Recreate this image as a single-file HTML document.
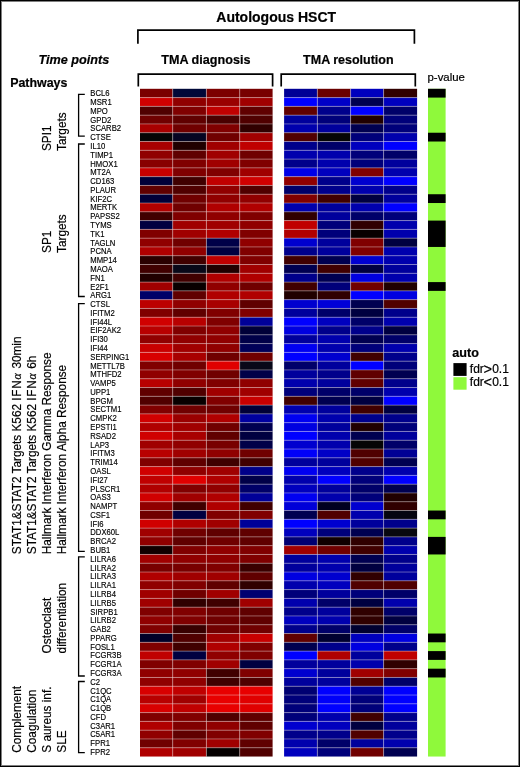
<!DOCTYPE html><html><head><meta charset="utf-8"><style>
html,body{margin:0;padding:0;background:#fff;}
body{width:520px;height:767px;overflow:hidden;position:relative;}
svg{position:absolute;left:0;top:0;display:block;will-change:transform;}
text{font-family:"Liberation Sans", sans-serif;fill:#000;stroke:#000;stroke-width:0.2px;}
.g{font-size:8.3px;stroke-width:0.15px;}
.r{font-size:12.5px;}
.b{font-weight:bold;}
</style></head><body>
<svg width="520" height="767" viewBox="0 0 520 767">
<rect x="0" y="0" width="520" height="767" fill="#fff"/>
<rect x="140.00" y="88.80" width="32.70" height="8.79" fill="#7a0000"/>
<rect x="172.70" y="88.80" width="33.70" height="8.79" fill="#000838"/>
<rect x="206.40" y="88.80" width="33.30" height="8.79" fill="#7c0000"/>
<rect x="239.70" y="88.80" width="32.90" height="8.79" fill="#780000"/>
<rect x="140.00" y="97.59" width="32.70" height="8.79" fill="#d00000"/>
<rect x="172.70" y="97.59" width="33.70" height="8.79" fill="#900000"/>
<rect x="206.40" y="97.59" width="33.30" height="8.79" fill="#9a0000"/>
<rect x="239.70" y="97.59" width="32.90" height="8.79" fill="#a00000"/>
<rect x="140.00" y="106.37" width="32.70" height="8.79" fill="#500000"/>
<rect x="172.70" y="106.37" width="33.70" height="8.79" fill="#800000"/>
<rect x="206.40" y="106.37" width="33.30" height="8.79" fill="#c00000"/>
<rect x="239.70" y="106.37" width="32.90" height="8.79" fill="#600000"/>
<rect x="140.00" y="115.16" width="32.70" height="8.79" fill="#700000"/>
<rect x="172.70" y="115.16" width="33.70" height="8.79" fill="#600000"/>
<rect x="206.40" y="115.16" width="33.30" height="8.79" fill="#4a0000"/>
<rect x="239.70" y="115.16" width="32.90" height="8.79" fill="#500000"/>
<rect x="140.00" y="123.94" width="32.70" height="8.79" fill="#a80000"/>
<rect x="172.70" y="123.94" width="33.70" height="8.79" fill="#700000"/>
<rect x="206.40" y="123.94" width="33.30" height="8.79" fill="#800000"/>
<rect x="239.70" y="123.94" width="32.90" height="8.79" fill="#300000"/>
<rect x="140.00" y="132.73" width="32.70" height="8.79" fill="#050505"/>
<rect x="172.70" y="132.73" width="33.70" height="8.79" fill="#050522"/>
<rect x="206.40" y="132.73" width="33.30" height="8.79" fill="#700000"/>
<rect x="239.70" y="132.73" width="32.90" height="8.79" fill="#a00000"/>
<rect x="140.00" y="141.52" width="32.70" height="8.79" fill="#a80000"/>
<rect x="172.70" y="141.52" width="33.70" height="8.79" fill="#200000"/>
<rect x="206.40" y="141.52" width="33.30" height="8.79" fill="#a00000"/>
<rect x="239.70" y="141.52" width="32.90" height="8.79" fill="#c00000"/>
<rect x="140.00" y="150.30" width="32.70" height="8.79" fill="#900000"/>
<rect x="172.70" y="150.30" width="33.70" height="8.79" fill="#600000"/>
<rect x="206.40" y="150.30" width="33.30" height="8.79" fill="#a00000"/>
<rect x="239.70" y="150.30" width="32.90" height="8.79" fill="#700000"/>
<rect x="140.00" y="159.09" width="32.70" height="8.79" fill="#880000"/>
<rect x="172.70" y="159.09" width="33.70" height="8.79" fill="#800000"/>
<rect x="206.40" y="159.09" width="33.30" height="8.79" fill="#a00000"/>
<rect x="239.70" y="159.09" width="32.90" height="8.79" fill="#800000"/>
<rect x="140.00" y="167.87" width="32.70" height="8.79" fill="#c80000"/>
<rect x="172.70" y="167.87" width="33.70" height="8.79" fill="#800000"/>
<rect x="206.40" y="167.87" width="33.30" height="8.79" fill="#800000"/>
<rect x="239.70" y="167.87" width="32.90" height="8.79" fill="#a00000"/>
<rect x="140.00" y="176.66" width="32.70" height="8.79" fill="#000038"/>
<rect x="172.70" y="176.66" width="33.70" height="8.79" fill="#400000"/>
<rect x="206.40" y="176.66" width="33.30" height="8.79" fill="#c00000"/>
<rect x="239.70" y="176.66" width="32.90" height="8.79" fill="#d00000"/>
<rect x="140.00" y="185.45" width="32.70" height="8.79" fill="#600000"/>
<rect x="172.70" y="185.45" width="33.70" height="8.79" fill="#500000"/>
<rect x="206.40" y="185.45" width="33.30" height="8.79" fill="#900000"/>
<rect x="239.70" y="185.45" width="32.90" height="8.79" fill="#500000"/>
<rect x="140.00" y="194.23" width="32.70" height="8.79" fill="#000038"/>
<rect x="172.70" y="194.23" width="33.70" height="8.79" fill="#700000"/>
<rect x="206.40" y="194.23" width="33.30" height="8.79" fill="#900000"/>
<rect x="239.70" y="194.23" width="32.90" height="8.79" fill="#900000"/>
<rect x="140.00" y="203.02" width="32.70" height="8.79" fill="#b00000"/>
<rect x="172.70" y="203.02" width="33.70" height="8.79" fill="#700000"/>
<rect x="206.40" y="203.02" width="33.30" height="8.79" fill="#b00000"/>
<rect x="239.70" y="203.02" width="32.90" height="8.79" fill="#b00000"/>
<rect x="140.00" y="211.80" width="32.70" height="8.79" fill="#400000"/>
<rect x="172.70" y="211.80" width="33.70" height="8.79" fill="#800000"/>
<rect x="206.40" y="211.80" width="33.30" height="8.79" fill="#900000"/>
<rect x="239.70" y="211.80" width="32.90" height="8.79" fill="#800000"/>
<rect x="140.00" y="220.59" width="32.70" height="8.79" fill="#000040"/>
<rect x="172.70" y="220.59" width="33.70" height="8.79" fill="#a00000"/>
<rect x="206.40" y="220.59" width="33.30" height="8.79" fill="#a00000"/>
<rect x="239.70" y="220.59" width="32.90" height="8.79" fill="#900000"/>
<rect x="140.00" y="229.38" width="32.70" height="8.79" fill="#800000"/>
<rect x="172.70" y="229.38" width="33.70" height="8.79" fill="#a00000"/>
<rect x="206.40" y="229.38" width="33.30" height="8.79" fill="#b00000"/>
<rect x="239.70" y="229.38" width="32.90" height="8.79" fill="#800000"/>
<rect x="140.00" y="238.16" width="32.70" height="8.79" fill="#900000"/>
<rect x="172.70" y="238.16" width="33.70" height="8.79" fill="#700000"/>
<rect x="206.40" y="238.16" width="33.30" height="8.79" fill="#000048"/>
<rect x="239.70" y="238.16" width="32.90" height="8.79" fill="#900000"/>
<rect x="140.00" y="246.95" width="32.70" height="8.79" fill="#b00000"/>
<rect x="172.70" y="246.95" width="33.70" height="8.79" fill="#900000"/>
<rect x="206.40" y="246.95" width="33.30" height="8.79" fill="#000040"/>
<rect x="239.70" y="246.95" width="32.90" height="8.79" fill="#800000"/>
<rect x="140.00" y="255.73" width="32.70" height="8.79" fill="#2a0000"/>
<rect x="172.70" y="255.73" width="33.70" height="8.79" fill="#400000"/>
<rect x="206.40" y="255.73" width="33.30" height="8.79" fill="#c00000"/>
<rect x="239.70" y="255.73" width="32.90" height="8.79" fill="#800000"/>
<rect x="140.00" y="264.52" width="32.70" height="8.79" fill="#400000"/>
<rect x="172.70" y="264.52" width="33.70" height="8.79" fill="#080818"/>
<rect x="206.40" y="264.52" width="33.30" height="8.79" fill="#200000"/>
<rect x="239.70" y="264.52" width="32.90" height="8.79" fill="#a00000"/>
<rect x="140.00" y="273.31" width="32.70" height="8.79" fill="#200000"/>
<rect x="172.70" y="273.31" width="33.70" height="8.79" fill="#400000"/>
<rect x="206.40" y="273.31" width="33.30" height="8.79" fill="#b00000"/>
<rect x="239.70" y="273.31" width="32.90" height="8.79" fill="#b00000"/>
<rect x="140.00" y="282.09" width="32.70" height="8.79" fill="#a00000"/>
<rect x="172.70" y="282.09" width="33.70" height="8.79" fill="#080000"/>
<rect x="206.40" y="282.09" width="33.30" height="8.79" fill="#900000"/>
<rect x="239.70" y="282.09" width="32.90" height="8.79" fill="#700000"/>
<rect x="140.00" y="290.88" width="32.70" height="8.79" fill="#000068"/>
<rect x="172.70" y="290.88" width="33.70" height="8.79" fill="#600000"/>
<rect x="206.40" y="290.88" width="33.30" height="8.79" fill="#b00000"/>
<rect x="239.70" y="290.88" width="32.90" height="8.79" fill="#b00000"/>
<rect x="140.00" y="299.66" width="32.70" height="8.79" fill="#bc0000"/>
<rect x="172.70" y="299.66" width="33.70" height="8.79" fill="#900000"/>
<rect x="206.40" y="299.66" width="33.30" height="8.79" fill="#a80000"/>
<rect x="239.70" y="299.66" width="32.90" height="8.79" fill="#600000"/>
<rect x="140.00" y="308.45" width="32.70" height="8.79" fill="#800000"/>
<rect x="172.70" y="308.45" width="33.70" height="8.79" fill="#600000"/>
<rect x="206.40" y="308.45" width="33.30" height="8.79" fill="#800000"/>
<rect x="239.70" y="308.45" width="32.90" height="8.79" fill="#800000"/>
<rect x="140.00" y="317.24" width="32.70" height="8.79" fill="#d00000"/>
<rect x="172.70" y="317.24" width="33.70" height="8.79" fill="#b80000"/>
<rect x="206.40" y="317.24" width="33.30" height="8.79" fill="#800000"/>
<rect x="239.70" y="317.24" width="32.90" height="8.79" fill="#000098"/>
<rect x="140.00" y="326.02" width="32.70" height="8.79" fill="#b80000"/>
<rect x="172.70" y="326.02" width="33.70" height="8.79" fill="#800000"/>
<rect x="206.40" y="326.02" width="33.30" height="8.79" fill="#900000"/>
<rect x="239.70" y="326.02" width="32.90" height="8.79" fill="#000038"/>
<rect x="140.00" y="334.81" width="32.70" height="8.79" fill="#900000"/>
<rect x="172.70" y="334.81" width="33.70" height="8.79" fill="#900000"/>
<rect x="206.40" y="334.81" width="33.30" height="8.79" fill="#900000"/>
<rect x="239.70" y="334.81" width="32.90" height="8.79" fill="#000048"/>
<rect x="140.00" y="343.59" width="32.70" height="8.79" fill="#c80000"/>
<rect x="172.70" y="343.59" width="33.70" height="8.79" fill="#a00000"/>
<rect x="206.40" y="343.59" width="33.30" height="8.79" fill="#900000"/>
<rect x="239.70" y="343.59" width="32.90" height="8.79" fill="#000058"/>
<rect x="140.00" y="352.38" width="32.70" height="8.79" fill="#d80000"/>
<rect x="172.70" y="352.38" width="33.70" height="8.79" fill="#a80000"/>
<rect x="206.40" y="352.38" width="33.30" height="8.79" fill="#700000"/>
<rect x="239.70" y="352.38" width="32.90" height="8.79" fill="#700000"/>
<rect x="140.00" y="361.17" width="32.70" height="8.79" fill="#800000"/>
<rect x="172.70" y="361.17" width="33.70" height="8.79" fill="#700000"/>
<rect x="206.40" y="361.17" width="33.30" height="8.79" fill="#e00000"/>
<rect x="239.70" y="361.17" width="32.90" height="8.79" fill="#080818"/>
<rect x="140.00" y="369.95" width="32.70" height="8.79" fill="#900000"/>
<rect x="172.70" y="369.95" width="33.70" height="8.79" fill="#800000"/>
<rect x="206.40" y="369.95" width="33.30" height="8.79" fill="#700000"/>
<rect x="239.70" y="369.95" width="32.90" height="8.79" fill="#000048"/>
<rect x="140.00" y="378.74" width="32.70" height="8.79" fill="#b80000"/>
<rect x="172.70" y="378.74" width="33.70" height="8.79" fill="#900000"/>
<rect x="206.40" y="378.74" width="33.30" height="8.79" fill="#800000"/>
<rect x="239.70" y="378.74" width="32.90" height="8.79" fill="#900000"/>
<rect x="140.00" y="387.52" width="32.70" height="8.79" fill="#600000"/>
<rect x="172.70" y="387.52" width="33.70" height="8.79" fill="#500000"/>
<rect x="206.40" y="387.52" width="33.30" height="8.79" fill="#a00000"/>
<rect x="239.70" y="387.52" width="32.90" height="8.79" fill="#a00000"/>
<rect x="140.00" y="396.31" width="32.70" height="8.79" fill="#500000"/>
<rect x="172.70" y="396.31" width="33.70" height="8.79" fill="#080000"/>
<rect x="206.40" y="396.31" width="33.30" height="8.79" fill="#800000"/>
<rect x="239.70" y="396.31" width="32.90" height="8.79" fill="#c80000"/>
<rect x="140.00" y="405.10" width="32.70" height="8.79" fill="#800000"/>
<rect x="172.70" y="405.10" width="33.70" height="8.79" fill="#700000"/>
<rect x="206.40" y="405.10" width="33.30" height="8.79" fill="#700000"/>
<rect x="239.70" y="405.10" width="32.90" height="8.79" fill="#000038"/>
<rect x="140.00" y="413.88" width="32.70" height="8.79" fill="#d00000"/>
<rect x="172.70" y="413.88" width="33.70" height="8.79" fill="#9a0000"/>
<rect x="206.40" y="413.88" width="33.30" height="8.79" fill="#b00000"/>
<rect x="239.70" y="413.88" width="32.90" height="8.79" fill="#0000a0"/>
<rect x="140.00" y="422.67" width="32.70" height="8.79" fill="#b00000"/>
<rect x="172.70" y="422.67" width="33.70" height="8.79" fill="#a00000"/>
<rect x="206.40" y="422.67" width="33.30" height="8.79" fill="#700000"/>
<rect x="239.70" y="422.67" width="32.90" height="8.79" fill="#000050"/>
<rect x="140.00" y="431.45" width="32.70" height="8.79" fill="#d00000"/>
<rect x="172.70" y="431.45" width="33.70" height="8.79" fill="#a80000"/>
<rect x="206.40" y="431.45" width="33.30" height="8.79" fill="#600000"/>
<rect x="239.70" y="431.45" width="32.90" height="8.79" fill="#000040"/>
<rect x="140.00" y="440.24" width="32.70" height="8.79" fill="#a00000"/>
<rect x="172.70" y="440.24" width="33.70" height="8.79" fill="#900000"/>
<rect x="206.40" y="440.24" width="33.30" height="8.79" fill="#780000"/>
<rect x="239.70" y="440.24" width="32.90" height="8.79" fill="#000048"/>
<rect x="140.00" y="449.03" width="32.70" height="8.79" fill="#b80000"/>
<rect x="172.70" y="449.03" width="33.70" height="8.79" fill="#a00000"/>
<rect x="206.40" y="449.03" width="33.30" height="8.79" fill="#900000"/>
<rect x="239.70" y="449.03" width="32.90" height="8.79" fill="#700000"/>
<rect x="140.00" y="457.81" width="32.70" height="8.79" fill="#800000"/>
<rect x="172.70" y="457.81" width="33.70" height="8.79" fill="#600000"/>
<rect x="206.40" y="457.81" width="33.30" height="8.79" fill="#400000"/>
<rect x="239.70" y="457.81" width="32.90" height="8.79" fill="#400000"/>
<rect x="140.00" y="466.60" width="32.70" height="8.79" fill="#d00000"/>
<rect x="172.70" y="466.60" width="33.70" height="8.79" fill="#900000"/>
<rect x="206.40" y="466.60" width="33.30" height="8.79" fill="#a00000"/>
<rect x="239.70" y="466.60" width="32.90" height="8.79" fill="#000088"/>
<rect x="140.00" y="475.38" width="32.70" height="8.79" fill="#c00000"/>
<rect x="172.70" y="475.38" width="33.70" height="8.79" fill="#e00000"/>
<rect x="206.40" y="475.38" width="33.30" height="8.79" fill="#b00000"/>
<rect x="239.70" y="475.38" width="32.90" height="8.79" fill="#000048"/>
<rect x="140.00" y="484.17" width="32.70" height="8.79" fill="#b00000"/>
<rect x="172.70" y="484.17" width="33.70" height="8.79" fill="#800000"/>
<rect x="206.40" y="484.17" width="33.30" height="8.79" fill="#900000"/>
<rect x="239.70" y="484.17" width="32.90" height="8.79" fill="#000068"/>
<rect x="140.00" y="492.96" width="32.70" height="8.79" fill="#d00000"/>
<rect x="172.70" y="492.96" width="33.70" height="8.79" fill="#a00000"/>
<rect x="206.40" y="492.96" width="33.30" height="8.79" fill="#b00000"/>
<rect x="239.70" y="492.96" width="32.90" height="8.79" fill="#000098"/>
<rect x="140.00" y="501.74" width="32.70" height="8.79" fill="#900000"/>
<rect x="172.70" y="501.74" width="33.70" height="8.79" fill="#400000"/>
<rect x="206.40" y="501.74" width="33.30" height="8.79" fill="#b00000"/>
<rect x="239.70" y="501.74" width="32.90" height="8.79" fill="#400000"/>
<rect x="140.00" y="510.53" width="32.70" height="8.79" fill="#700000"/>
<rect x="172.70" y="510.53" width="33.70" height="8.79" fill="#000040"/>
<rect x="206.40" y="510.53" width="33.30" height="8.79" fill="#800000"/>
<rect x="239.70" y="510.53" width="32.90" height="8.79" fill="#800000"/>
<rect x="140.00" y="519.31" width="32.70" height="8.79" fill="#d00000"/>
<rect x="172.70" y="519.31" width="33.70" height="8.79" fill="#b00000"/>
<rect x="206.40" y="519.31" width="33.30" height="8.79" fill="#a00000"/>
<rect x="239.70" y="519.31" width="32.90" height="8.79" fill="#000098"/>
<rect x="140.00" y="528.10" width="32.70" height="8.79" fill="#a00000"/>
<rect x="172.70" y="528.10" width="33.70" height="8.79" fill="#700000"/>
<rect x="206.40" y="528.10" width="33.30" height="8.79" fill="#600000"/>
<rect x="239.70" y="528.10" width="32.90" height="8.79" fill="#600000"/>
<rect x="140.00" y="536.89" width="32.70" height="8.79" fill="#900000"/>
<rect x="172.70" y="536.89" width="33.70" height="8.79" fill="#600000"/>
<rect x="206.40" y="536.89" width="33.30" height="8.79" fill="#700000"/>
<rect x="239.70" y="536.89" width="32.90" height="8.79" fill="#600000"/>
<rect x="140.00" y="545.67" width="32.70" height="8.79" fill="#100000"/>
<rect x="172.70" y="545.67" width="33.70" height="8.79" fill="#800000"/>
<rect x="206.40" y="545.67" width="33.30" height="8.79" fill="#900000"/>
<rect x="239.70" y="545.67" width="32.90" height="8.79" fill="#800000"/>
<rect x="140.00" y="554.46" width="32.70" height="8.79" fill="#a00000"/>
<rect x="172.70" y="554.46" width="33.70" height="8.79" fill="#900000"/>
<rect x="206.40" y="554.46" width="33.30" height="8.79" fill="#900000"/>
<rect x="239.70" y="554.46" width="32.90" height="8.79" fill="#800000"/>
<rect x="140.00" y="563.24" width="32.70" height="8.79" fill="#780000"/>
<rect x="172.70" y="563.24" width="33.70" height="8.79" fill="#780000"/>
<rect x="206.40" y="563.24" width="33.30" height="8.79" fill="#800000"/>
<rect x="239.70" y="563.24" width="32.90" height="8.79" fill="#3a0000"/>
<rect x="140.00" y="572.03" width="32.70" height="8.79" fill="#b00000"/>
<rect x="172.70" y="572.03" width="33.70" height="8.79" fill="#a00000"/>
<rect x="206.40" y="572.03" width="33.30" height="8.79" fill="#a00000"/>
<rect x="239.70" y="572.03" width="32.90" height="8.79" fill="#600000"/>
<rect x="140.00" y="580.82" width="32.70" height="8.79" fill="#900000"/>
<rect x="172.70" y="580.82" width="33.70" height="8.79" fill="#800000"/>
<rect x="206.40" y="580.82" width="33.30" height="8.79" fill="#600000"/>
<rect x="239.70" y="580.82" width="32.90" height="8.79" fill="#300000"/>
<rect x="140.00" y="589.60" width="32.70" height="8.79" fill="#a00000"/>
<rect x="172.70" y="589.60" width="33.70" height="8.79" fill="#700000"/>
<rect x="206.40" y="589.60" width="33.30" height="8.79" fill="#a00000"/>
<rect x="239.70" y="589.60" width="32.90" height="8.79" fill="#000070"/>
<rect x="140.00" y="598.39" width="32.70" height="8.79" fill="#a00000"/>
<rect x="172.70" y="598.39" width="33.70" height="8.79" fill="#300000"/>
<rect x="206.40" y="598.39" width="33.30" height="8.79" fill="#400000"/>
<rect x="239.70" y="598.39" width="32.90" height="8.79" fill="#a00000"/>
<rect x="140.00" y="607.17" width="32.70" height="8.79" fill="#800000"/>
<rect x="172.70" y="607.17" width="33.70" height="8.79" fill="#800000"/>
<rect x="206.40" y="607.17" width="33.30" height="8.79" fill="#700000"/>
<rect x="239.70" y="607.17" width="32.90" height="8.79" fill="#600000"/>
<rect x="140.00" y="615.96" width="32.70" height="8.79" fill="#900000"/>
<rect x="172.70" y="615.96" width="33.70" height="8.79" fill="#800000"/>
<rect x="206.40" y="615.96" width="33.30" height="8.79" fill="#700000"/>
<rect x="239.70" y="615.96" width="32.90" height="8.79" fill="#600000"/>
<rect x="140.00" y="624.75" width="32.70" height="8.79" fill="#800000"/>
<rect x="172.70" y="624.75" width="33.70" height="8.79" fill="#380000"/>
<rect x="206.40" y="624.75" width="33.30" height="8.79" fill="#700000"/>
<rect x="239.70" y="624.75" width="32.90" height="8.79" fill="#700000"/>
<rect x="140.00" y="633.53" width="32.70" height="8.79" fill="#000028"/>
<rect x="172.70" y="633.53" width="33.70" height="8.79" fill="#500000"/>
<rect x="206.40" y="633.53" width="33.30" height="8.79" fill="#a00000"/>
<rect x="239.70" y="633.53" width="32.90" height="8.79" fill="#c80000"/>
<rect x="140.00" y="642.32" width="32.70" height="8.79" fill="#800000"/>
<rect x="172.70" y="642.32" width="33.70" height="8.79" fill="#400000"/>
<rect x="206.40" y="642.32" width="33.30" height="8.79" fill="#b00000"/>
<rect x="239.70" y="642.32" width="32.90" height="8.79" fill="#800000"/>
<rect x="140.00" y="651.10" width="32.70" height="8.79" fill="#c00000"/>
<rect x="172.70" y="651.10" width="33.70" height="8.79" fill="#000040"/>
<rect x="206.40" y="651.10" width="33.30" height="8.79" fill="#900000"/>
<rect x="239.70" y="651.10" width="32.90" height="8.79" fill="#800000"/>
<rect x="140.00" y="659.89" width="32.70" height="8.79" fill="#800000"/>
<rect x="172.70" y="659.89" width="33.70" height="8.79" fill="#800000"/>
<rect x="206.40" y="659.89" width="33.30" height="8.79" fill="#a00000"/>
<rect x="239.70" y="659.89" width="32.90" height="8.79" fill="#000040"/>
<rect x="140.00" y="668.68" width="32.70" height="8.79" fill="#900000"/>
<rect x="172.70" y="668.68" width="33.70" height="8.79" fill="#900000"/>
<rect x="206.40" y="668.68" width="33.30" height="8.79" fill="#400000"/>
<rect x="239.70" y="668.68" width="32.90" height="8.79" fill="#800000"/>
<rect x="140.00" y="677.46" width="32.70" height="8.79" fill="#900000"/>
<rect x="172.70" y="677.46" width="33.70" height="8.79" fill="#900000"/>
<rect x="206.40" y="677.46" width="33.30" height="8.79" fill="#400000"/>
<rect x="239.70" y="677.46" width="32.90" height="8.79" fill="#500000"/>
<rect x="140.00" y="686.25" width="32.70" height="8.79" fill="#d80000"/>
<rect x="172.70" y="686.25" width="33.70" height="8.79" fill="#c00000"/>
<rect x="206.40" y="686.25" width="33.30" height="8.79" fill="#e80000"/>
<rect x="239.70" y="686.25" width="32.90" height="8.79" fill="#e80000"/>
<rect x="140.00" y="695.03" width="32.70" height="8.79" fill="#b80000"/>
<rect x="172.70" y="695.03" width="33.70" height="8.79" fill="#a00000"/>
<rect x="206.40" y="695.03" width="33.30" height="8.79" fill="#e80000"/>
<rect x="239.70" y="695.03" width="32.90" height="8.79" fill="#e00000"/>
<rect x="140.00" y="703.82" width="32.70" height="8.79" fill="#d80000"/>
<rect x="172.70" y="703.82" width="33.70" height="8.79" fill="#c00000"/>
<rect x="206.40" y="703.82" width="33.30" height="8.79" fill="#e80000"/>
<rect x="239.70" y="703.82" width="32.90" height="8.79" fill="#e00000"/>
<rect x="140.00" y="712.61" width="32.70" height="8.79" fill="#800000"/>
<rect x="172.70" y="712.61" width="33.70" height="8.79" fill="#800000"/>
<rect x="206.40" y="712.61" width="33.30" height="8.79" fill="#500000"/>
<rect x="239.70" y="712.61" width="32.90" height="8.79" fill="#600000"/>
<rect x="140.00" y="721.39" width="32.70" height="8.79" fill="#b00000"/>
<rect x="172.70" y="721.39" width="33.70" height="8.79" fill="#800000"/>
<rect x="206.40" y="721.39" width="33.30" height="8.79" fill="#900000"/>
<rect x="239.70" y="721.39" width="32.90" height="8.79" fill="#600000"/>
<rect x="140.00" y="730.18" width="32.70" height="8.79" fill="#900000"/>
<rect x="172.70" y="730.18" width="33.70" height="8.79" fill="#600000"/>
<rect x="206.40" y="730.18" width="33.30" height="8.79" fill="#800000"/>
<rect x="239.70" y="730.18" width="32.90" height="8.79" fill="#800000"/>
<rect x="140.00" y="738.96" width="32.70" height="8.79" fill="#700000"/>
<rect x="172.70" y="738.96" width="33.70" height="8.79" fill="#800000"/>
<rect x="206.40" y="738.96" width="33.30" height="8.79" fill="#a00000"/>
<rect x="239.70" y="738.96" width="32.90" height="8.79" fill="#600000"/>
<rect x="140.00" y="747.75" width="32.70" height="8.79" fill="#b00000"/>
<rect x="172.70" y="747.75" width="33.70" height="8.79" fill="#a00000"/>
<rect x="206.40" y="747.75" width="33.30" height="8.79" fill="#050000"/>
<rect x="239.70" y="747.75" width="32.90" height="8.79" fill="#500000"/>
<rect x="284.10" y="88.80" width="33.25" height="8.79" fill="#000096"/>
<rect x="317.35" y="88.80" width="33.25" height="8.79" fill="#6a0000"/>
<rect x="350.60" y="88.80" width="33.00" height="8.79" fill="#0000be"/>
<rect x="383.60" y="88.80" width="33.50" height="8.79" fill="#300000"/>
<rect x="284.10" y="97.59" width="33.25" height="8.79" fill="#0000ff"/>
<rect x="317.35" y="97.59" width="33.25" height="8.79" fill="#0000c7"/>
<rect x="350.60" y="97.59" width="33.00" height="8.79" fill="#000050"/>
<rect x="383.60" y="97.59" width="33.50" height="8.79" fill="#0000be"/>
<rect x="284.10" y="106.37" width="33.25" height="8.79" fill="#600000"/>
<rect x="317.35" y="106.37" width="33.25" height="8.79" fill="#00008b"/>
<rect x="350.60" y="106.37" width="33.00" height="8.79" fill="#0000ff"/>
<rect x="383.60" y="106.37" width="33.50" height="8.79" fill="#000069"/>
<rect x="284.10" y="115.16" width="33.25" height="8.79" fill="#00009c"/>
<rect x="317.35" y="115.16" width="33.25" height="8.79" fill="#00007a"/>
<rect x="350.60" y="115.16" width="33.00" height="8.79" fill="#200000"/>
<rect x="383.60" y="115.16" width="33.50" height="8.79" fill="#00007a"/>
<rect x="284.10" y="123.94" width="33.25" height="8.79" fill="#0000ad"/>
<rect x="317.35" y="123.94" width="33.25" height="8.79" fill="#00009c"/>
<rect x="350.60" y="123.94" width="33.00" height="8.79" fill="#000050"/>
<rect x="383.60" y="123.94" width="33.50" height="8.79" fill="#00007a"/>
<rect x="284.10" y="132.73" width="33.25" height="8.79" fill="#500000"/>
<rect x="317.35" y="132.73" width="33.25" height="8.79" fill="#050505"/>
<rect x="350.60" y="132.73" width="33.00" height="8.79" fill="#00007a"/>
<rect x="383.60" y="132.73" width="33.50" height="8.79" fill="#0000ad"/>
<rect x="284.10" y="141.52" width="33.25" height="8.79" fill="#00008b"/>
<rect x="317.35" y="141.52" width="33.25" height="8.79" fill="#000069"/>
<rect x="350.60" y="141.52" width="33.00" height="8.79" fill="#0000be"/>
<rect x="383.60" y="141.52" width="33.50" height="8.79" fill="#0000ff"/>
<rect x="284.10" y="150.30" width="33.25" height="8.79" fill="#0000ad"/>
<rect x="317.35" y="150.30" width="33.25" height="8.79" fill="#0000ad"/>
<rect x="350.60" y="150.30" width="33.00" height="8.79" fill="#00007a"/>
<rect x="383.60" y="150.30" width="33.50" height="8.79" fill="#000069"/>
<rect x="284.10" y="159.09" width="33.25" height="8.79" fill="#00008b"/>
<rect x="317.35" y="159.09" width="33.25" height="8.79" fill="#0000ad"/>
<rect x="350.60" y="159.09" width="33.00" height="8.79" fill="#00007a"/>
<rect x="383.60" y="159.09" width="33.50" height="8.79" fill="#00009c"/>
<rect x="284.10" y="167.87" width="33.25" height="8.79" fill="#0000e8"/>
<rect x="317.35" y="167.87" width="33.25" height="8.79" fill="#0000be"/>
<rect x="350.60" y="167.87" width="33.00" height="8.79" fill="#800000"/>
<rect x="383.60" y="167.87" width="33.50" height="8.79" fill="#0000ad"/>
<rect x="284.10" y="176.66" width="33.25" height="8.79" fill="#900000"/>
<rect x="317.35" y="176.66" width="33.25" height="8.79" fill="#00008b"/>
<rect x="350.60" y="176.66" width="33.00" height="8.79" fill="#0000cf"/>
<rect x="383.60" y="176.66" width="33.50" height="8.79" fill="#0000ff"/>
<rect x="284.10" y="185.45" width="33.25" height="8.79" fill="#000069"/>
<rect x="317.35" y="185.45" width="33.25" height="8.79" fill="#00008b"/>
<rect x="350.60" y="185.45" width="33.00" height="8.79" fill="#0000ad"/>
<rect x="383.60" y="185.45" width="33.50" height="8.79" fill="#00008b"/>
<rect x="284.10" y="194.23" width="33.25" height="8.79" fill="#800000"/>
<rect x="317.35" y="194.23" width="33.25" height="8.79" fill="#400000"/>
<rect x="350.60" y="194.23" width="33.00" height="8.79" fill="#000040"/>
<rect x="383.60" y="194.23" width="33.50" height="8.79" fill="#00009c"/>
<rect x="284.10" y="203.02" width="33.25" height="8.79" fill="#0000ad"/>
<rect x="317.35" y="203.02" width="33.25" height="8.79" fill="#00009c"/>
<rect x="350.60" y="203.02" width="33.00" height="8.79" fill="#0000ad"/>
<rect x="383.60" y="203.02" width="33.50" height="8.79" fill="#0000ff"/>
<rect x="284.10" y="211.80" width="33.25" height="8.79" fill="#300000"/>
<rect x="317.35" y="211.80" width="33.25" height="8.79" fill="#00009c"/>
<rect x="350.60" y="211.80" width="33.00" height="8.79" fill="#000069"/>
<rect x="383.60" y="211.80" width="33.50" height="8.79" fill="#00007a"/>
<rect x="284.10" y="220.59" width="33.25" height="8.79" fill="#c00000"/>
<rect x="317.35" y="220.59" width="33.25" height="8.79" fill="#00007a"/>
<rect x="350.60" y="220.59" width="33.00" height="8.79" fill="#300000"/>
<rect x="383.60" y="220.59" width="33.50" height="8.79" fill="#0000ad"/>
<rect x="284.10" y="229.38" width="33.25" height="8.79" fill="#b00000"/>
<rect x="317.35" y="229.38" width="33.25" height="8.79" fill="#00007a"/>
<rect x="350.60" y="229.38" width="33.00" height="8.79" fill="#080000"/>
<rect x="383.60" y="229.38" width="33.50" height="8.79" fill="#0000ad"/>
<rect x="284.10" y="238.16" width="33.25" height="8.79" fill="#0000cf"/>
<rect x="317.35" y="238.16" width="33.25" height="8.79" fill="#00009c"/>
<rect x="350.60" y="238.16" width="33.00" height="8.79" fill="#800000"/>
<rect x="383.60" y="238.16" width="33.50" height="8.79" fill="#000040"/>
<rect x="284.10" y="246.95" width="33.25" height="8.79" fill="#00008b"/>
<rect x="317.35" y="246.95" width="33.25" height="8.79" fill="#00009c"/>
<rect x="350.60" y="246.95" width="33.00" height="8.79" fill="#800000"/>
<rect x="383.60" y="246.95" width="33.50" height="8.79" fill="#0000ad"/>
<rect x="284.10" y="255.73" width="33.25" height="8.79" fill="#400000"/>
<rect x="317.35" y="255.73" width="33.25" height="8.79" fill="#000050"/>
<rect x="350.60" y="255.73" width="33.00" height="8.79" fill="#0000cf"/>
<rect x="383.60" y="255.73" width="33.50" height="8.79" fill="#0000ad"/>
<rect x="284.10" y="264.52" width="33.25" height="8.79" fill="#000050"/>
<rect x="317.35" y="264.52" width="33.25" height="8.79" fill="#400000"/>
<rect x="350.60" y="264.52" width="33.00" height="8.79" fill="#000040"/>
<rect x="383.60" y="264.52" width="33.50" height="8.79" fill="#00009c"/>
<rect x="284.10" y="273.31" width="33.25" height="8.79" fill="#00008b"/>
<rect x="317.35" y="273.31" width="33.25" height="8.79" fill="#000050"/>
<rect x="350.60" y="273.31" width="33.00" height="8.79" fill="#0000e0"/>
<rect x="383.60" y="273.31" width="33.50" height="8.79" fill="#0000ad"/>
<rect x="284.10" y="282.09" width="33.25" height="8.79" fill="#400000"/>
<rect x="317.35" y="282.09" width="33.25" height="8.79" fill="#00007a"/>
<rect x="350.60" y="282.09" width="33.00" height="8.79" fill="#700000"/>
<rect x="383.60" y="282.09" width="33.50" height="8.79" fill="#200000"/>
<rect x="284.10" y="290.88" width="33.25" height="8.79" fill="#200000"/>
<rect x="317.35" y="290.88" width="33.25" height="8.79" fill="#300000"/>
<rect x="350.60" y="290.88" width="33.00" height="8.79" fill="#0000ff"/>
<rect x="383.60" y="290.88" width="33.50" height="8.79" fill="#0000e0"/>
<rect x="284.10" y="299.66" width="33.25" height="8.79" fill="#0000cf"/>
<rect x="317.35" y="299.66" width="33.25" height="8.79" fill="#0000d8"/>
<rect x="350.60" y="299.66" width="33.00" height="8.79" fill="#000050"/>
<rect x="383.60" y="299.66" width="33.50" height="8.79" fill="#500000"/>
<rect x="284.10" y="308.45" width="33.25" height="8.79" fill="#00009c"/>
<rect x="317.35" y="308.45" width="33.25" height="8.79" fill="#000069"/>
<rect x="350.60" y="308.45" width="33.00" height="8.79" fill="#000040"/>
<rect x="383.60" y="308.45" width="33.50" height="8.79" fill="#00008b"/>
<rect x="284.10" y="317.24" width="33.25" height="8.79" fill="#0000ff"/>
<rect x="317.35" y="317.24" width="33.25" height="8.79" fill="#0000be"/>
<rect x="350.60" y="317.24" width="33.00" height="8.79" fill="#000069"/>
<rect x="383.60" y="317.24" width="33.50" height="8.79" fill="#0000ad"/>
<rect x="284.10" y="326.02" width="33.25" height="8.79" fill="#0000e0"/>
<rect x="317.35" y="326.02" width="33.25" height="8.79" fill="#00008b"/>
<rect x="350.60" y="326.02" width="33.00" height="8.79" fill="#00008b"/>
<rect x="383.60" y="326.02" width="33.50" height="8.79" fill="#000040"/>
<rect x="284.10" y="334.81" width="33.25" height="8.79" fill="#00009c"/>
<rect x="317.35" y="334.81" width="33.25" height="8.79" fill="#0000ad"/>
<rect x="350.60" y="334.81" width="33.00" height="8.79" fill="#000050"/>
<rect x="383.60" y="334.81" width="33.50" height="8.79" fill="#000069"/>
<rect x="284.10" y="343.59" width="33.25" height="8.79" fill="#0000f1"/>
<rect x="317.35" y="343.59" width="33.25" height="8.79" fill="#0000ad"/>
<rect x="350.60" y="343.59" width="33.00" height="8.79" fill="#00007a"/>
<rect x="383.60" y="343.59" width="33.50" height="8.79" fill="#0000ad"/>
<rect x="284.10" y="352.38" width="33.25" height="8.79" fill="#0000ff"/>
<rect x="317.35" y="352.38" width="33.25" height="8.79" fill="#0000cf"/>
<rect x="350.60" y="352.38" width="33.00" height="8.79" fill="#400000"/>
<rect x="383.60" y="352.38" width="33.50" height="8.79" fill="#00008b"/>
<rect x="284.10" y="361.17" width="33.25" height="8.79" fill="#000069"/>
<rect x="317.35" y="361.17" width="33.25" height="8.79" fill="#00009c"/>
<rect x="350.60" y="361.17" width="33.00" height="8.79" fill="#0000ff"/>
<rect x="383.60" y="361.17" width="33.50" height="8.79" fill="#00007a"/>
<rect x="284.10" y="369.95" width="33.25" height="8.79" fill="#00009c"/>
<rect x="317.35" y="369.95" width="33.25" height="8.79" fill="#00008b"/>
<rect x="350.60" y="369.95" width="33.00" height="8.79" fill="#600000"/>
<rect x="383.60" y="369.95" width="33.50" height="8.79" fill="#000050"/>
<rect x="284.10" y="378.74" width="33.25" height="8.79" fill="#0000ad"/>
<rect x="317.35" y="378.74" width="33.25" height="8.79" fill="#00009c"/>
<rect x="350.60" y="378.74" width="33.00" height="8.79" fill="#600000"/>
<rect x="383.60" y="378.74" width="33.50" height="8.79" fill="#00008b"/>
<rect x="284.10" y="387.52" width="33.25" height="8.79" fill="#00007a"/>
<rect x="317.35" y="387.52" width="33.25" height="8.79" fill="#000069"/>
<rect x="350.60" y="387.52" width="33.00" height="8.79" fill="#000069"/>
<rect x="383.60" y="387.52" width="33.50" height="8.79" fill="#0000ad"/>
<rect x="284.10" y="396.31" width="33.25" height="8.79" fill="#400000"/>
<rect x="317.35" y="396.31" width="33.25" height="8.79" fill="#000050"/>
<rect x="350.60" y="396.31" width="33.00" height="8.79" fill="#000040"/>
<rect x="383.60" y="396.31" width="33.50" height="8.79" fill="#0000ff"/>
<rect x="284.10" y="405.10" width="33.25" height="8.79" fill="#0000ad"/>
<rect x="317.35" y="405.10" width="33.25" height="8.79" fill="#00009c"/>
<rect x="350.60" y="405.10" width="33.00" height="8.79" fill="#400000"/>
<rect x="383.60" y="405.10" width="33.50" height="8.79" fill="#000040"/>
<rect x="284.10" y="413.88" width="33.25" height="8.79" fill="#0000f1"/>
<rect x="317.35" y="413.88" width="33.25" height="8.79" fill="#0000ad"/>
<rect x="350.60" y="413.88" width="33.00" height="8.79" fill="#00008b"/>
<rect x="383.60" y="413.88" width="33.50" height="8.79" fill="#00008b"/>
<rect x="284.10" y="422.67" width="33.25" height="8.79" fill="#0000e0"/>
<rect x="317.35" y="422.67" width="33.25" height="8.79" fill="#00009c"/>
<rect x="350.60" y="422.67" width="33.00" height="8.79" fill="#200000"/>
<rect x="383.60" y="422.67" width="33.50" height="8.79" fill="#00007a"/>
<rect x="284.10" y="431.45" width="33.25" height="8.79" fill="#0000ff"/>
<rect x="317.35" y="431.45" width="33.25" height="8.79" fill="#0000ad"/>
<rect x="350.60" y="431.45" width="33.00" height="8.79" fill="#000050"/>
<rect x="383.60" y="431.45" width="33.50" height="8.79" fill="#00009c"/>
<rect x="284.10" y="440.24" width="33.25" height="8.79" fill="#0000cf"/>
<rect x="317.35" y="440.24" width="33.25" height="8.79" fill="#0000ad"/>
<rect x="350.60" y="440.24" width="33.00" height="8.79" fill="#050505"/>
<rect x="383.60" y="440.24" width="33.50" height="8.79" fill="#000069"/>
<rect x="284.10" y="449.03" width="33.25" height="8.79" fill="#0000f9"/>
<rect x="317.35" y="449.03" width="33.25" height="8.79" fill="#0000c7"/>
<rect x="350.60" y="449.03" width="33.00" height="8.79" fill="#500000"/>
<rect x="383.60" y="449.03" width="33.50" height="8.79" fill="#000094"/>
<rect x="284.10" y="457.81" width="33.25" height="8.79" fill="#00009c"/>
<rect x="317.35" y="457.81" width="33.25" height="8.79" fill="#00009c"/>
<rect x="350.60" y="457.81" width="33.00" height="8.79" fill="#500000"/>
<rect x="383.60" y="457.81" width="33.50" height="8.79" fill="#000050"/>
<rect x="284.10" y="466.60" width="33.25" height="8.79" fill="#0000f1"/>
<rect x="317.35" y="466.60" width="33.25" height="8.79" fill="#0000be"/>
<rect x="350.60" y="466.60" width="33.00" height="8.79" fill="#00008b"/>
<rect x="383.60" y="466.60" width="33.50" height="8.79" fill="#0000ad"/>
<rect x="284.10" y="475.38" width="33.25" height="8.79" fill="#0000ad"/>
<rect x="317.35" y="475.38" width="33.25" height="8.79" fill="#0000ff"/>
<rect x="350.60" y="475.38" width="33.00" height="8.79" fill="#00007a"/>
<rect x="383.60" y="475.38" width="33.50" height="8.79" fill="#0000ff"/>
<rect x="284.10" y="484.17" width="33.25" height="8.79" fill="#0000be"/>
<rect x="317.35" y="484.17" width="33.25" height="8.79" fill="#00009c"/>
<rect x="350.60" y="484.17" width="33.00" height="8.79" fill="#000069"/>
<rect x="383.60" y="484.17" width="33.50" height="8.79" fill="#000050"/>
<rect x="284.10" y="492.96" width="33.25" height="8.79" fill="#0000f1"/>
<rect x="317.35" y="492.96" width="33.25" height="8.79" fill="#0000ad"/>
<rect x="350.60" y="492.96" width="33.00" height="8.79" fill="#00007a"/>
<rect x="383.60" y="492.96" width="33.50" height="8.79" fill="#200000"/>
<rect x="284.10" y="501.74" width="33.25" height="8.79" fill="#0000d8"/>
<rect x="317.35" y="501.74" width="33.25" height="8.79" fill="#000020"/>
<rect x="350.60" y="501.74" width="33.00" height="8.79" fill="#0000cf"/>
<rect x="383.60" y="501.74" width="33.50" height="8.79" fill="#300000"/>
<rect x="284.10" y="510.53" width="33.25" height="8.79" fill="#000050"/>
<rect x="317.35" y="510.53" width="33.25" height="8.79" fill="#500000"/>
<rect x="350.60" y="510.53" width="33.00" height="8.79" fill="#0000ad"/>
<rect x="383.60" y="510.53" width="33.50" height="8.79" fill="#050510"/>
<rect x="284.10" y="519.31" width="33.25" height="8.79" fill="#0000ff"/>
<rect x="317.35" y="519.31" width="33.25" height="8.79" fill="#0000cf"/>
<rect x="350.60" y="519.31" width="33.00" height="8.79" fill="#00009c"/>
<rect x="383.60" y="519.31" width="33.50" height="8.79" fill="#00008b"/>
<rect x="284.10" y="528.10" width="33.25" height="8.79" fill="#0000be"/>
<rect x="317.35" y="528.10" width="33.25" height="8.79" fill="#00007a"/>
<rect x="350.60" y="528.10" width="33.00" height="8.79" fill="#000050"/>
<rect x="383.60" y="528.10" width="33.50" height="8.79" fill="#080810"/>
<rect x="284.10" y="536.89" width="33.25" height="8.79" fill="#000072"/>
<rect x="317.35" y="536.89" width="33.25" height="8.79" fill="#100000"/>
<rect x="350.60" y="536.89" width="33.00" height="8.79" fill="#300000"/>
<rect x="383.60" y="536.89" width="33.50" height="8.79" fill="#00008b"/>
<rect x="284.10" y="545.67" width="33.25" height="8.79" fill="#a00000"/>
<rect x="317.35" y="545.67" width="33.25" height="8.79" fill="#700000"/>
<rect x="350.60" y="545.67" width="33.00" height="8.79" fill="#400000"/>
<rect x="383.60" y="545.67" width="33.50" height="8.79" fill="#0000ad"/>
<rect x="284.10" y="554.46" width="33.25" height="8.79" fill="#00009c"/>
<rect x="317.35" y="554.46" width="33.25" height="8.79" fill="#0000ad"/>
<rect x="350.60" y="554.46" width="33.00" height="8.79" fill="#000050"/>
<rect x="383.60" y="554.46" width="33.50" height="8.79" fill="#00008b"/>
<rect x="284.10" y="563.24" width="33.25" height="8.79" fill="#00009c"/>
<rect x="317.35" y="563.24" width="33.25" height="8.79" fill="#0000ad"/>
<rect x="350.60" y="563.24" width="33.00" height="8.79" fill="#000040"/>
<rect x="383.60" y="563.24" width="33.50" height="8.79" fill="#00009c"/>
<rect x="284.10" y="572.03" width="33.25" height="8.79" fill="#0000e0"/>
<rect x="317.35" y="572.03" width="33.25" height="8.79" fill="#0000cf"/>
<rect x="350.60" y="572.03" width="33.00" height="8.79" fill="#300000"/>
<rect x="383.60" y="572.03" width="33.50" height="8.79" fill="#00009c"/>
<rect x="284.10" y="580.82" width="33.25" height="8.79" fill="#0000ad"/>
<rect x="317.35" y="580.82" width="33.25" height="8.79" fill="#0000be"/>
<rect x="350.60" y="580.82" width="33.00" height="8.79" fill="#500000"/>
<rect x="383.60" y="580.82" width="33.50" height="8.79" fill="#500000"/>
<rect x="284.10" y="589.60" width="33.25" height="8.79" fill="#00007a"/>
<rect x="317.35" y="589.60" width="33.25" height="8.79" fill="#00009c"/>
<rect x="350.60" y="589.60" width="33.00" height="8.79" fill="#00007a"/>
<rect x="383.60" y="589.60" width="33.50" height="8.79" fill="#000069"/>
<rect x="284.10" y="598.39" width="33.25" height="8.79" fill="#0000ad"/>
<rect x="317.35" y="598.39" width="33.25" height="8.79" fill="#000069"/>
<rect x="350.60" y="598.39" width="33.00" height="8.79" fill="#000040"/>
<rect x="383.60" y="598.39" width="33.50" height="8.79" fill="#0000ad"/>
<rect x="284.10" y="607.17" width="33.25" height="8.79" fill="#00008b"/>
<rect x="317.35" y="607.17" width="33.25" height="8.79" fill="#00009c"/>
<rect x="350.60" y="607.17" width="33.00" height="8.79" fill="#300000"/>
<rect x="383.60" y="607.17" width="33.50" height="8.79" fill="#000069"/>
<rect x="284.10" y="615.96" width="33.25" height="8.79" fill="#0000be"/>
<rect x="317.35" y="615.96" width="33.25" height="8.79" fill="#0000ad"/>
<rect x="350.60" y="615.96" width="33.00" height="8.79" fill="#300000"/>
<rect x="383.60" y="615.96" width="33.50" height="8.79" fill="#000040"/>
<rect x="284.10" y="624.75" width="33.25" height="8.79" fill="#00008b"/>
<rect x="317.35" y="624.75" width="33.25" height="8.79" fill="#000069"/>
<rect x="350.60" y="624.75" width="33.00" height="8.79" fill="#000030"/>
<rect x="383.60" y="624.75" width="33.50" height="8.79" fill="#000069"/>
<rect x="284.10" y="633.53" width="33.25" height="8.79" fill="#600000"/>
<rect x="317.35" y="633.53" width="33.25" height="8.79" fill="#000030"/>
<rect x="350.60" y="633.53" width="33.00" height="8.79" fill="#0000be"/>
<rect x="383.60" y="633.53" width="33.50" height="8.79" fill="#0000e0"/>
<rect x="284.10" y="642.32" width="33.25" height="8.79" fill="#000050"/>
<rect x="317.35" y="642.32" width="33.25" height="8.79" fill="#00008b"/>
<rect x="350.60" y="642.32" width="33.00" height="8.79" fill="#0000e0"/>
<rect x="383.60" y="642.32" width="33.50" height="8.79" fill="#00008b"/>
<rect x="284.10" y="651.10" width="33.25" height="8.79" fill="#0000ff"/>
<rect x="317.35" y="651.10" width="33.25" height="8.79" fill="#b00000"/>
<rect x="350.60" y="651.10" width="33.00" height="8.79" fill="#00009c"/>
<rect x="383.60" y="651.10" width="33.50" height="8.79" fill="#c00000"/>
<rect x="284.10" y="659.89" width="33.25" height="8.79" fill="#00009c"/>
<rect x="317.35" y="659.89" width="33.25" height="8.79" fill="#00009c"/>
<rect x="350.60" y="659.89" width="33.00" height="8.79" fill="#0000ad"/>
<rect x="383.60" y="659.89" width="33.50" height="8.79" fill="#300000"/>
<rect x="284.10" y="668.68" width="33.25" height="8.79" fill="#0000cf"/>
<rect x="317.35" y="668.68" width="33.25" height="8.79" fill="#00009c"/>
<rect x="350.60" y="668.68" width="33.00" height="8.79" fill="#a00000"/>
<rect x="383.60" y="668.68" width="33.50" height="8.79" fill="#800000"/>
<rect x="284.10" y="677.46" width="33.25" height="8.79" fill="#00009c"/>
<rect x="317.35" y="677.46" width="33.25" height="8.79" fill="#00009c"/>
<rect x="350.60" y="677.46" width="33.00" height="8.79" fill="#500000"/>
<rect x="383.60" y="677.46" width="33.50" height="8.79" fill="#000069"/>
<rect x="284.10" y="686.25" width="33.25" height="8.79" fill="#000072"/>
<rect x="317.35" y="686.25" width="33.25" height="8.79" fill="#0000ff"/>
<rect x="350.60" y="686.25" width="33.00" height="8.79" fill="#000094"/>
<rect x="383.60" y="686.25" width="33.50" height="8.79" fill="#0000ff"/>
<rect x="284.10" y="695.03" width="33.25" height="8.79" fill="#00007a"/>
<rect x="317.35" y="695.03" width="33.25" height="8.79" fill="#0000f9"/>
<rect x="350.60" y="695.03" width="33.00" height="8.79" fill="#00007a"/>
<rect x="383.60" y="695.03" width="33.50" height="8.79" fill="#0000ff"/>
<rect x="284.10" y="703.82" width="33.25" height="8.79" fill="#00007a"/>
<rect x="317.35" y="703.82" width="33.25" height="8.79" fill="#0000ff"/>
<rect x="350.60" y="703.82" width="33.00" height="8.79" fill="#00007a"/>
<rect x="383.60" y="703.82" width="33.50" height="8.79" fill="#0000ff"/>
<rect x="284.10" y="712.61" width="33.25" height="8.79" fill="#00007a"/>
<rect x="317.35" y="712.61" width="33.25" height="8.79" fill="#0000ad"/>
<rect x="350.60" y="712.61" width="33.00" height="8.79" fill="#400000"/>
<rect x="383.60" y="712.61" width="33.50" height="8.79" fill="#00008b"/>
<rect x="284.10" y="721.39" width="33.25" height="8.79" fill="#0000cf"/>
<rect x="317.35" y="721.39" width="33.25" height="8.79" fill="#0000be"/>
<rect x="350.60" y="721.39" width="33.00" height="8.79" fill="#000040"/>
<rect x="383.60" y="721.39" width="33.50" height="8.79" fill="#00009c"/>
<rect x="284.10" y="730.18" width="33.25" height="8.79" fill="#00008b"/>
<rect x="317.35" y="730.18" width="33.25" height="8.79" fill="#00008b"/>
<rect x="350.60" y="730.18" width="33.00" height="8.79" fill="#500000"/>
<rect x="383.60" y="730.18" width="33.50" height="8.79" fill="#00008b"/>
<rect x="284.10" y="738.96" width="33.25" height="8.79" fill="#0000ad"/>
<rect x="317.35" y="738.96" width="33.25" height="8.79" fill="#000069"/>
<rect x="350.60" y="738.96" width="33.00" height="8.79" fill="#00009c"/>
<rect x="383.60" y="738.96" width="33.50" height="8.79" fill="#0000ad"/>
<rect x="284.10" y="747.75" width="33.25" height="8.79" fill="#0000be"/>
<rect x="317.35" y="747.75" width="33.25" height="8.79" fill="#00007a"/>
<rect x="350.60" y="747.75" width="33.00" height="8.79" fill="#700000"/>
<rect x="383.60" y="747.75" width="33.50" height="8.79" fill="#000050"/>
<path d="M140.00 97.59H272.60M140.00 106.37H272.60M140.00 115.16H272.60M140.00 123.94H272.60M140.00 132.73H272.60M140.00 141.52H272.60M140.00 150.30H272.60M140.00 159.09H272.60M140.00 167.87H272.60M140.00 176.66H272.60M140.00 185.45H272.60M140.00 194.23H272.60M140.00 203.02H272.60M140.00 211.80H272.60M140.00 220.59H272.60M140.00 229.38H272.60M140.00 238.16H272.60M140.00 246.95H272.60M140.00 255.73H272.60M140.00 264.52H272.60M140.00 273.31H272.60M140.00 282.09H272.60M140.00 290.88H272.60M140.00 299.66H272.60M140.00 308.45H272.60M140.00 317.24H272.60M140.00 326.02H272.60M140.00 334.81H272.60M140.00 343.59H272.60M140.00 352.38H272.60M140.00 361.17H272.60M140.00 369.95H272.60M140.00 378.74H272.60M140.00 387.52H272.60M140.00 396.31H272.60M140.00 405.10H272.60M140.00 413.88H272.60M140.00 422.67H272.60M140.00 431.45H272.60M140.00 440.24H272.60M140.00 449.03H272.60M140.00 457.81H272.60M140.00 466.60H272.60M140.00 475.38H272.60M140.00 484.17H272.60M140.00 492.96H272.60M140.00 501.74H272.60M140.00 510.53H272.60M140.00 519.31H272.60M140.00 528.10H272.60M140.00 536.89H272.60M140.00 545.67H272.60M140.00 554.46H272.60M140.00 563.24H272.60M140.00 572.03H272.60M140.00 580.82H272.60M140.00 589.60H272.60M140.00 598.39H272.60M140.00 607.17H272.60M140.00 615.96H272.60M140.00 624.75H272.60M140.00 633.53H272.60M140.00 642.32H272.60M140.00 651.10H272.60M140.00 659.89H272.60M140.00 668.68H272.60M140.00 677.46H272.60M140.00 686.25H272.60M140.00 695.03H272.60M140.00 703.82H272.60M140.00 712.61H272.60M140.00 721.39H272.60M140.00 730.18H272.60M140.00 738.96H272.60M140.00 747.75H272.60M284.10 97.59H417.10M284.10 106.37H417.10M284.10 115.16H417.10M284.10 123.94H417.10M284.10 132.73H417.10M284.10 141.52H417.10M284.10 150.30H417.10M284.10 159.09H417.10M284.10 167.87H417.10M284.10 176.66H417.10M284.10 185.45H417.10M284.10 194.23H417.10M284.10 203.02H417.10M284.10 211.80H417.10M284.10 220.59H417.10M284.10 229.38H417.10M284.10 238.16H417.10M284.10 246.95H417.10M284.10 255.73H417.10M284.10 264.52H417.10M284.10 273.31H417.10M284.10 282.09H417.10M284.10 290.88H417.10M284.10 299.66H417.10M284.10 308.45H417.10M284.10 317.24H417.10M284.10 326.02H417.10M284.10 334.81H417.10M284.10 343.59H417.10M284.10 352.38H417.10M284.10 361.17H417.10M284.10 369.95H417.10M284.10 378.74H417.10M284.10 387.52H417.10M284.10 396.31H417.10M284.10 405.10H417.10M284.10 413.88H417.10M284.10 422.67H417.10M284.10 431.45H417.10M284.10 440.24H417.10M284.10 449.03H417.10M284.10 457.81H417.10M284.10 466.60H417.10M284.10 475.38H417.10M284.10 484.17H417.10M284.10 492.96H417.10M284.10 501.74H417.10M284.10 510.53H417.10M284.10 519.31H417.10M284.10 528.10H417.10M284.10 536.89H417.10M284.10 545.67H417.10M284.10 554.46H417.10M284.10 563.24H417.10M284.10 572.03H417.10M284.10 580.82H417.10M284.10 589.60H417.10M284.10 598.39H417.10M284.10 607.17H417.10M284.10 615.96H417.10M284.10 624.75H417.10M284.10 633.53H417.10M284.10 642.32H417.10M284.10 651.10H417.10M284.10 659.89H417.10M284.10 668.68H417.10M284.10 677.46H417.10M284.10 686.25H417.10M284.10 695.03H417.10M284.10 703.82H417.10M284.10 712.61H417.10M284.10 721.39H417.10M284.10 730.18H417.10M284.10 738.96H417.10M284.10 747.75H417.10" fill="none" stroke="#f4eaea" stroke-opacity="0.42" stroke-width="0.9"/>
<path d="M172.70 88.80V756.54M206.40 88.80V756.54M239.70 88.80V756.54M317.35 88.80V756.54M350.60 88.80V756.54M383.60 88.80V756.54" fill="none" stroke="#f4eaea" stroke-opacity="0.45" stroke-width="0.9"/>
<rect x="428.00" y="88.80" width="17.60" height="667.74" fill="#8ff93b"/>
<rect x="428.00" y="88.80" width="17.60" height="8.79" fill="#000"/>
<rect x="428.00" y="132.73" width="17.60" height="8.79" fill="#000"/>
<rect x="428.00" y="194.23" width="17.60" height="8.79" fill="#000"/>
<rect x="428.00" y="220.59" width="17.60" height="26.36" fill="#000"/>
<rect x="428.00" y="282.09" width="17.60" height="8.79" fill="#000"/>
<rect x="428.00" y="510.53" width="17.60" height="8.79" fill="#000"/>
<rect x="428.00" y="536.89" width="17.60" height="17.57" fill="#000"/>
<rect x="428.00" y="633.53" width="17.60" height="8.79" fill="#000"/>
<rect x="428.00" y="651.10" width="17.60" height="8.79" fill="#000"/>
<rect x="428.00" y="668.68" width="17.60" height="8.79" fill="#000"/>
<path d="M137.9 43.7V30.2H414.4V43.7" fill="none" stroke="#000" stroke-width="1.7" stroke-linecap="butt" stroke-linejoin="miter"/>
<path d="M138.3 86.6V74.1H272.6V86.6" fill="none" stroke="#000" stroke-width="1.7" stroke-linecap="butt" stroke-linejoin="miter"/>
<path d="M281.2 86.6V74.1H415.3V86.6" fill="none" stroke="#000" stroke-width="1.7" stroke-linecap="butt" stroke-linejoin="miter"/>
<text class="b" x="216.3" y="22.1" style="font-size:14px">Autologous HSCT</text>
<text class="b" x="38.5" y="63.7" style="font-size:12.65px;font-style:italic">Time points</text>
<text class="b" x="161.3" y="63.8" style="font-size:12.6px">TMA diagnosis</text>
<text class="b" x="303.1" y="63.8" style="font-size:12.5px">TMA resolution</text>
<text class="b" x="10.2" y="87.1" style="font-size:12.4px">Pathways</text>
<text x="427.5" y="80.8" style="font-size:11.4px">p-value</text>
<text class="b" x="452.3" y="357.1" style="font-size:12.6px">auto</text>
<rect x="453.4" y="363.1" width="13.2" height="12.8" fill="#000"/>
<rect x="453.4" y="377.2" width="13.2" height="12.5" fill="#8ff93b"/>
<text x="469.8" y="372.9" style="font-size:12px">fdr<tspan style="font-size:14.5px" dx="-0.4" dy="1.0">&gt;</tspan><tspan dx="0.3" dy="-1.0">0.1</tspan></text>
<text x="469.8" y="386.1" style="font-size:12px">fdr<tspan style="font-size:14.5px" dx="-0.4" dy="1.0">&lt;</tspan><tspan dx="0.3" dy="-1.0">0.1</tspan></text>
<text class="g" transform="translate(90.3 96.30) scale(0.928 1)">BCL6</text>
<text class="g" transform="translate(90.3 105.08) scale(0.928 1)">MSR1</text>
<text class="g" transform="translate(90.3 113.87) scale(0.928 1)">MPO</text>
<text class="g" transform="translate(90.3 122.65) scale(0.928 1)">GPD2</text>
<text class="g" transform="translate(90.3 131.43) scale(0.928 1)">SCARB2</text>
<text class="g" transform="translate(90.3 140.22) scale(0.928 1)">CTSE</text>
<text class="g" transform="translate(90.3 149.00) scale(0.928 1)">IL10</text>
<text class="g" transform="translate(90.3 157.78) scale(0.928 1)">TIMP1</text>
<text class="g" transform="translate(90.3 166.56) scale(0.928 1)">HMOX1</text>
<text class="g" transform="translate(90.3 175.35) scale(0.928 1)">MT2A</text>
<text class="g" transform="translate(90.3 184.13) scale(0.928 1)">CD163</text>
<text class="g" transform="translate(90.3 192.91) scale(0.928 1)">PLAUR</text>
<text class="g" transform="translate(90.3 201.70) scale(0.928 1)">KIF2C</text>
<text class="g" transform="translate(90.3 210.48) scale(0.928 1)">MERTK</text>
<text class="g" transform="translate(90.3 219.26) scale(0.928 1)">PAPSS2</text>
<text class="g" transform="translate(90.3 228.05) scale(0.928 1)">TYMS</text>
<text class="g" transform="translate(90.3 236.83) scale(0.928 1)">TK1</text>
<text class="g" transform="translate(90.3 245.61) scale(0.928 1)">TAGLN</text>
<text class="g" transform="translate(90.3 254.39) scale(0.928 1)">PCNA</text>
<text class="g" transform="translate(90.3 263.18) scale(0.928 1)">MMP14</text>
<text class="g" transform="translate(90.3 271.96) scale(0.928 1)">MAOA</text>
<text class="g" transform="translate(90.3 280.74) scale(0.928 1)">FN1</text>
<text class="g" transform="translate(90.3 289.53) scale(0.928 1)">E2F1</text>
<text class="g" transform="translate(90.3 298.31) scale(0.928 1)">ARG1</text>
<text class="g" transform="translate(90.3 307.09) scale(0.928 1)">CTSL</text>
<text class="g" transform="translate(90.3 315.88) scale(0.928 1)">IFITM2</text>
<text class="g" transform="translate(90.3 324.66) scale(0.928 1)">IFI44L</text>
<text class="g" transform="translate(90.3 333.44) scale(0.928 1)">EIF2AK2</text>
<text class="g" transform="translate(90.3 342.22) scale(0.928 1)">IFI30</text>
<text class="g" transform="translate(90.3 351.01) scale(0.928 1)">IFI44</text>
<text class="g" transform="translate(90.3 359.79) scale(0.928 1)">SERPING1</text>
<text class="g" transform="translate(90.3 368.57) scale(0.928 1)">METTL7B</text>
<text class="g" transform="translate(90.3 377.36) scale(0.928 1)">MTHFD2</text>
<text class="g" transform="translate(90.3 386.14) scale(0.928 1)">VAMP5</text>
<text class="g" transform="translate(90.3 394.92) scale(0.928 1)">UPP1</text>
<text class="g" transform="translate(90.3 403.70) scale(0.928 1)">BPGM</text>
<text class="g" transform="translate(90.3 412.49) scale(0.928 1)">SECTM1</text>
<text class="g" transform="translate(90.3 421.27) scale(0.928 1)">CMPK2</text>
<text class="g" transform="translate(90.3 430.05) scale(0.928 1)">EPSTI1</text>
<text class="g" transform="translate(90.3 438.84) scale(0.928 1)">RSAD2</text>
<text class="g" transform="translate(90.3 447.62) scale(0.928 1)">LAP3</text>
<text class="g" transform="translate(90.3 456.40) scale(0.928 1)">IFITM3</text>
<text class="g" transform="translate(90.3 465.19) scale(0.928 1)">TRIM14</text>
<text class="g" transform="translate(90.3 473.97) scale(0.928 1)">OASL</text>
<text class="g" transform="translate(90.3 482.75) scale(0.928 1)">IFI27</text>
<text class="g" transform="translate(90.3 491.53) scale(0.928 1)">PLSCR1</text>
<text class="g" transform="translate(90.3 500.32) scale(0.928 1)">OAS3</text>
<text class="g" transform="translate(90.3 509.10) scale(0.928 1)">NAMPT</text>
<text class="g" transform="translate(90.3 517.88) scale(0.928 1)">CSF1</text>
<text class="g" transform="translate(90.3 526.67) scale(0.928 1)">IFI6</text>
<text class="g" transform="translate(90.3 535.45) scale(0.928 1)">DDX60L</text>
<text class="g" transform="translate(90.3 544.23) scale(0.928 1)">BRCA2</text>
<text class="g" transform="translate(90.3 553.02) scale(0.928 1)">BUB1</text>
<text class="g" transform="translate(90.3 561.80) scale(0.928 1)">LILRA6</text>
<text class="g" transform="translate(90.3 570.58) scale(0.928 1)">LILRA2</text>
<text class="g" transform="translate(90.3 579.37) scale(0.928 1)">LILRA3</text>
<text class="g" transform="translate(90.3 588.15) scale(0.928 1)">LILRA1</text>
<text class="g" transform="translate(90.3 596.93) scale(0.928 1)">LILRB4</text>
<text class="g" transform="translate(90.3 605.71) scale(0.928 1)">LILRB5</text>
<text class="g" transform="translate(90.3 614.50) scale(0.928 1)">SIRPB1</text>
<text class="g" transform="translate(90.3 623.28) scale(0.928 1)">LILRB2</text>
<text class="g" transform="translate(90.3 632.06) scale(0.928 1)">GAB2</text>
<text class="g" transform="translate(90.3 640.85) scale(0.928 1)">PPARG</text>
<text class="g" transform="translate(90.3 649.63) scale(0.928 1)">FOSL1</text>
<text class="g" transform="translate(90.3 658.41) scale(0.928 1)">FCGR3B</text>
<text class="g" transform="translate(90.3 667.19) scale(0.928 1)">FCGR1A</text>
<text class="g" transform="translate(90.3 675.98) scale(0.928 1)">FCGR3A</text>
<text class="g" transform="translate(90.3 684.76) scale(0.928 1)">C2</text>
<text class="g" transform="translate(90.3 693.54) scale(0.928 1)">C1QC</text>
<text class="g" transform="translate(90.3 702.33) scale(0.928 1)">C1QA</text>
<text class="g" transform="translate(90.3 711.11) scale(0.928 1)">C1QB</text>
<text class="g" transform="translate(90.3 719.89) scale(0.928 1)">CFD</text>
<text class="g" transform="translate(90.3 728.68) scale(0.928 1)">C3AR1</text>
<text class="g" transform="translate(90.3 737.46) scale(0.928 1)">C5AR1</text>
<text class="g" transform="translate(90.3 746.24) scale(0.928 1)">FPR1</text>
<text class="g" transform="translate(90.3 755.02) scale(0.928 1)">FPR2</text>
<path d="M84.8 94.40H78.6V136.20H84.8" fill="none" stroke="#000" stroke-width="1.3"/>
<path d="M84.8 144.00H78.6V296.50H84.8" fill="none" stroke="#000" stroke-width="1.3"/>
<path d="M84.8 303.60H78.6V551.30H84.8" fill="none" stroke="#000" stroke-width="1.3"/>
<path d="M84.8 556.90H78.6V676.00H84.8" fill="none" stroke="#000" stroke-width="1.3"/>
<path d="M84.8 681.50H78.6V752.60H84.8" fill="none" stroke="#000" stroke-width="1.3"/>
<text class="r" transform="translate(51.20 151.00) rotate(-90) scale(0.944 1)">SPI1</text>
<text class="r" transform="translate(66.10 151.00) rotate(-90) scale(0.944 1)">Targets</text>
<text class="r" transform="translate(51.20 252.90) rotate(-90) scale(0.944 1)">SP1</text>
<text class="r" transform="translate(66.10 252.90) rotate(-90) scale(0.944 1)">Targets</text>
<text class="r" transform="translate(21.20 554.20) rotate(-90) scale(0.944 1)">STAT1&amp;STAT2 Targets K562 <tspan style="letter-spacing:0.8px">IFN</tspan><tspan style="font-family:'Liberation Serif',serif;font-style:italic">&#945;</tspan><tspan dx="1.5"> 30min</tspan></text>
<text class="r" transform="translate(36.10 554.20) rotate(-90) scale(0.944 1)">STAT1&amp;STAT2 Targets K562 <tspan style="letter-spacing:0.8px">IFN</tspan><tspan style="font-family:'Liberation Serif',serif;font-style:italic">&#945;</tspan><tspan dx="1.2"> 6h</tspan></text>
<text class="r" transform="translate(51.20 554.20) rotate(-90) scale(0.944 1)">Hallmark Interferon Gamma Response</text>
<text class="r" transform="translate(66.10 554.20) rotate(-90) scale(0.944 1)">Hallmark Interferon Alpha Response</text>
<text class="r" transform="translate(51.20 653.40) rotate(-90) scale(0.944 1)">Osteoclast</text>
<text class="r" transform="translate(66.10 653.40) rotate(-90) scale(0.944 1)">differentiation</text>
<text class="r" transform="translate(21.20 752.70) rotate(-90) scale(0.944 1)">Complement</text>
<text class="r" transform="translate(36.10 752.70) rotate(-90) scale(0.944 1)">Coagulation</text>
<text class="r" transform="translate(51.20 752.70) rotate(-90) scale(0.944 1)">S aureus inf.</text>
<text class="r" transform="translate(66.10 752.70) rotate(-90) scale(0.944 1)">SLE</text>
<rect x="0.5" y="0.5" width="519" height="766" fill="none" stroke="#000" stroke-width="1"/>
<rect x="1.5" y="1.5" width="517" height="764" fill="none" stroke="#000" stroke-opacity="0.5" stroke-width="1"/>
</svg></body></html>
